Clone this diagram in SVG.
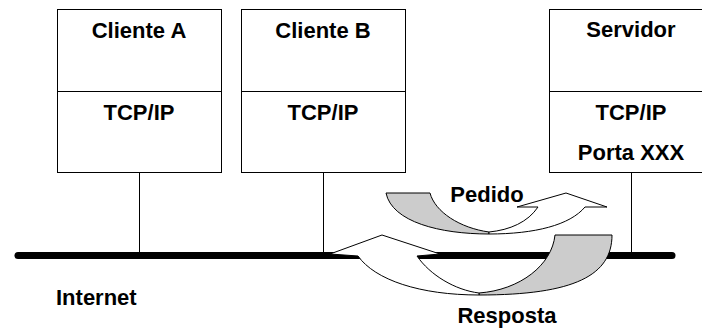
<svg xmlns="http://www.w3.org/2000/svg" width="702" height="329" viewBox="0 0 702 329">
  <style>
    .box { fill: #fff; stroke: #000; stroke-width: 1; }
    .div { stroke: #000; stroke-width: 1; }
    .lbl { font-family: "Liberation Sans", Arial, sans-serif; font-weight: bold; font-size: 22px; fill: #000; text-anchor: middle; }
    .drop { stroke: #000; stroke-width: 1; fill: none; }
    .bus { stroke: #000; stroke-width: 7; stroke-linecap: round; fill: none; }
    .front { fill: #fff; stroke: #000; stroke-width: 1; stroke-linejoin: miter; }
    .back { fill: #cccccc; stroke: #000; stroke-width: 1; }
  </style>
  <rect width="702" height="329" fill="#fff"/>

  <g id="cliente-a">
    <rect class="box" x="57.5" y="9.5" width="164" height="163"/>
    <line class="div" x1="57.5" y1="91.5" x2="221.5" y2="91.5"/>
    <text class="lbl" x="139" y="38">Cliente A</text>
    <text class="lbl" x="139" y="120">TCP/IP</text>
  </g>

  <g id="cliente-b">
    <rect class="box" x="241.5" y="9.5" width="164" height="163"/>
    <line class="div" x1="241.5" y1="91.5" x2="405.5" y2="91.5"/>
    <text class="lbl" x="323" y="38">Cliente B</text>
    <text class="lbl" x="323" y="120">TCP/IP</text>
  </g>

  <g id="servidor">
    <rect class="box" x="549.5" y="9.5" width="164" height="163"/>
    <line class="div" x1="549.5" y1="91.5" x2="713.5" y2="91.5"/>
    <text class="lbl" x="631" y="37">Servidor</text>
    <text class="lbl" x="631" y="120">TCP/IP</text>
    <text class="lbl" x="631" y="160">Porta XXX</text>
  </g>

  <g id="internet">
    <line class="bus" x1="18" y1="255.5" x2="672" y2="255.5"/>
    <text class="lbl" x="56" y="305" style="text-anchor:start">Internet</text>
  </g>

  <g id="connectors">
    <line class="drop" x1="139.5" y1="173" x2="139.5" y2="252"/>
    <line class="drop" x1="323.5" y1="173" x2="323.5" y2="252"/>
    <line class="drop" x1="631.5" y1="173" x2="631.5" y2="252"/>
  </g>

  <g id="pedido">
    <path class="back" d="M386,193 L430,193 C435,212 460,228 489,232 L489,234 C440,234 392,222 386,193 Z"/>
    <path class="front" d="M489,234 C535,234 570,225 585,207 L607,207 L566,193 L517,207 L538,207 C528,222 510,230 489,232 Z"/>
    <text class="lbl" x="487" y="202">Pedido</text>
  </g>

  <g id="resposta">
    <path class="back" d="M555,235 L612,235 C612,275 575,295 479,295 L479,293 C520,290 552,265 555,235 Z"/>
    <path class="front" d="M479,295 C420,295 375,280 358,256 L330,254 L382,235 L440,254 L417,256 C430,275 455,290 479,293 Z"/>
    <text class="lbl" x="507" y="323">Resposta</text>
  </g>
</svg>
